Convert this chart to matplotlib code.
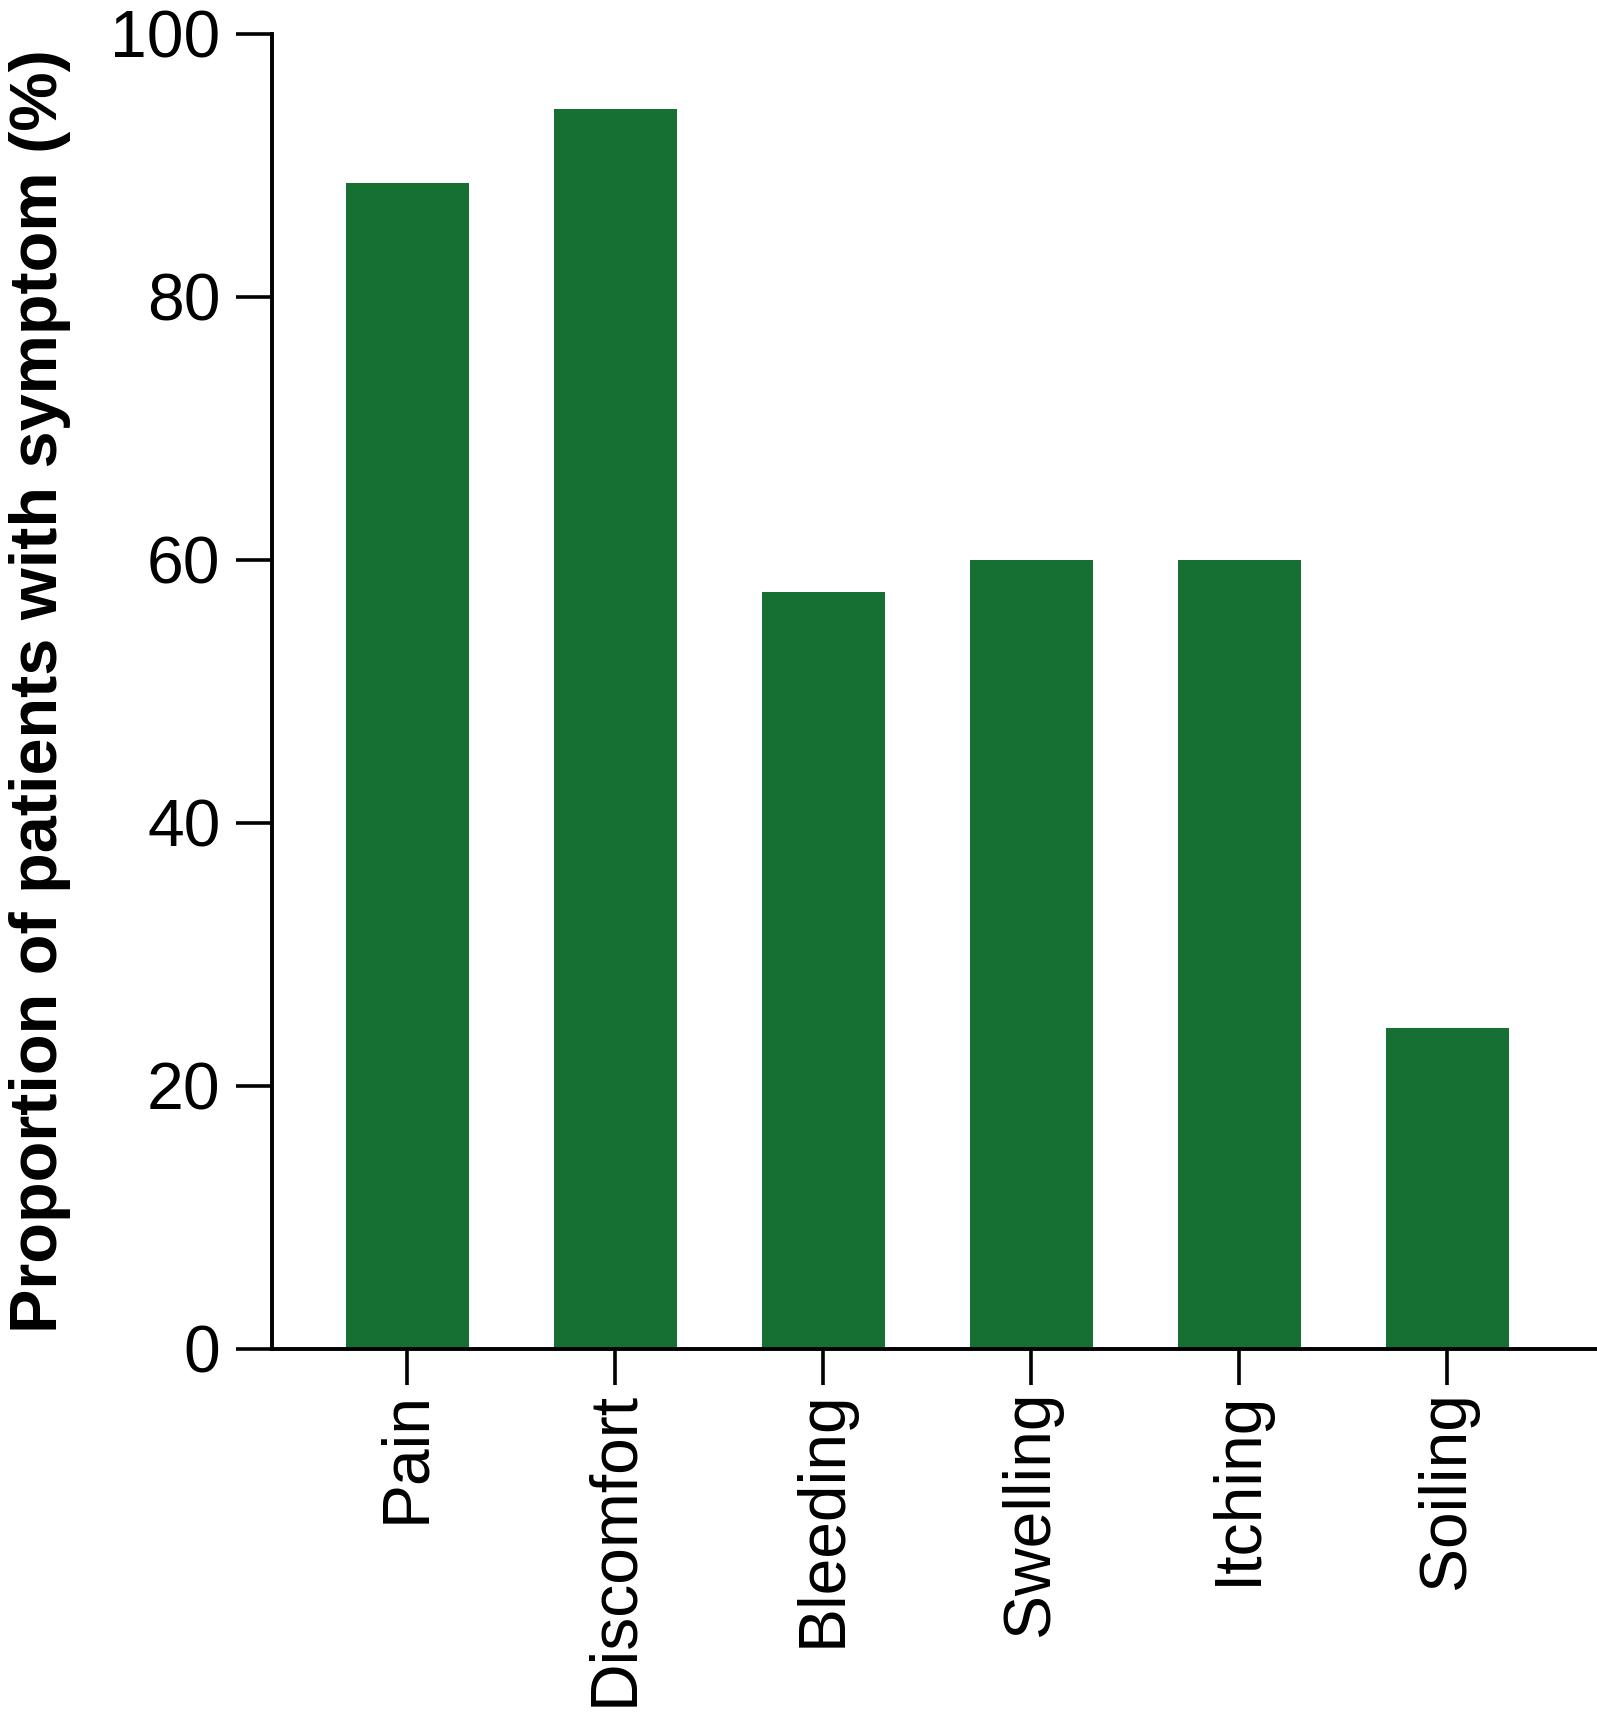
import matplotlib

matplotlib.use("Agg")
import matplotlib.pyplot as plt

# --- data -----------------------------------------------------------------
symptoms = ["Pain", "Discomfort", "Bleeding", "Swelling", "Itching", "Soiling"]
percent = [88.7, 94.3, 57.6, 60.0, 60.0, 24.4]
yticks = [0, 20, 40, 60, 80, 100]

GREEN = "#167034"

plt.rcParams["font.family"] = ["Liberation Sans", "DejaVu Sans"]

fig = plt.figure(figsize=(15.97, 17.16), dpi=100)
ax = fig.add_axes([0.1703, 0.2139, 0.8297, 0.7663])

x = range(len(symptoms))
ax.bar(x, percent, width=0.59, color=GREEN, edgecolor="none", zorder=2)

ax.set_xlim(-0.65, len(symptoms) - 0.28)
ax.set_ylim(0, 100)
ax.set_yticks(yticks)
ax.set_xticks(list(x))
ax.set_xticklabels(symptoms, rotation=90, va="top", ha="center")

for side in ("top", "right"):
    ax.spines[side].set_visible(False)
for side in ("left", "bottom"):
    ax.spines[side].set_linewidth(2.8)
    ax.spines[side].set_color("black")

ax.tick_params(axis="both", length=26, width=2.6, color="black", labelsize=47.5)
ax.tick_params(axis="y", pad=11)
ax.tick_params(axis="x", pad=4)

ax.set_ylabel("Proportion of patients with symptom (%)", fontsize=48,
              fontweight="bold")
ax.yaxis.set_label_coords(-0.152, 0.5)

fig.savefig("out.png", dpi=100, facecolor="white")
